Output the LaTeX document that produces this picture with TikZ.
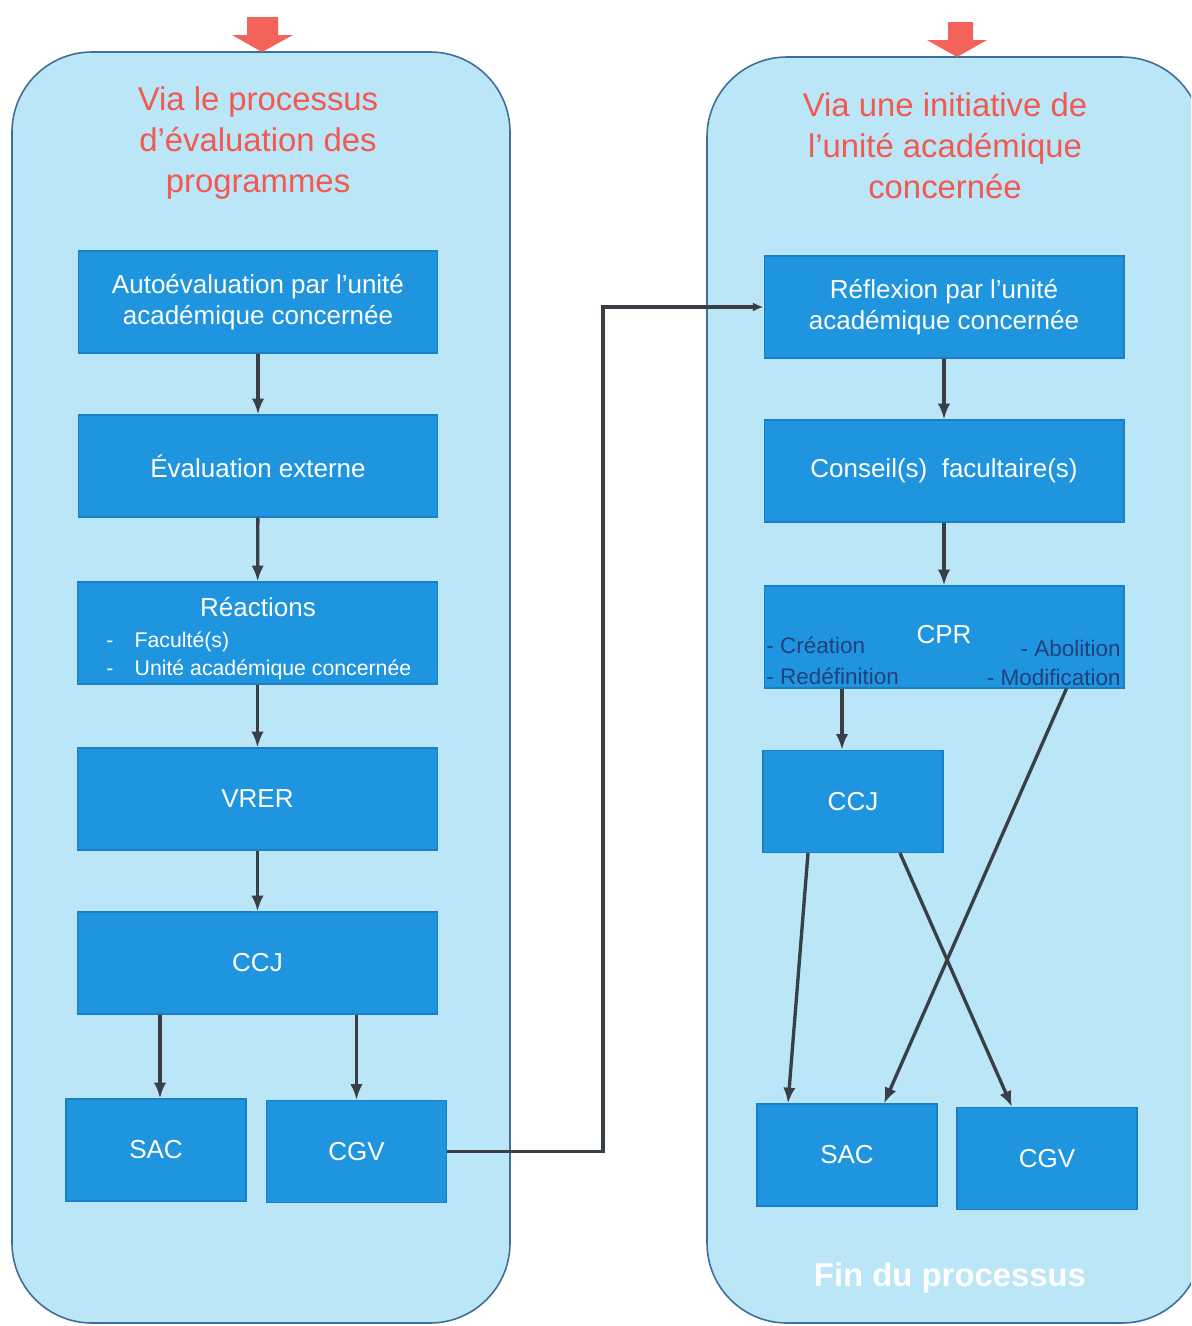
\documentclass[tikz,border=0pt]{standalone}
\usepackage{fontspec}
\setmainfont{Liberation Sans}
\usetikzlibrary{arrows.meta}
\definecolor{panelblue}{HTML}{BAE6F8}
\definecolor{paneledge}{HTML}{3F6E98}
\definecolor{boxblue}{HTML}{1F95DF}
\definecolor{boxedge}{HTML}{1A80C6}
\definecolor{titlered}{HTML}{F2594F}
\definecolor{arrowred}{HTML}{F4635A}
\definecolor{linkgray}{HTML}{3A3F46}
\definecolor{listnavy}{HTML}{24407C}
\tikzset{
  panel/.style={fill=panelblue, draw=paneledge, line width=0.9pt, rounded corners=1.6cm},
  box/.style={fill=boxblue, draw=boxedge, line width=0.6pt, minimum width=7.2cm, minimum height=2.04cm,
    inner sep=0pt, text=white, align=center, font=\fontsize{14.8}{18}\selectfont},
  halfbox/.style={box, minimum width=3.6cm},
  title/.style={text=titlered, align=center, font=\fontsize{18.7}{23.3}\selectfont},
  listtext/.style={anchor=west, inner sep=0pt, font=\fontsize{12.1}{14}\selectfont},
  sidetext/.style={inner sep=0pt, text=listnavy, font=\fontsize{12.8}{14}\selectfont},
  link/.style={draw=linkgray, line width=1.9pt, -{Latex[length=9pt,width=7pt]}},
}

\begin{document}
\begin{tikzpicture}[x=0.02cm,y=-0.02cm]
    \clip (0,0) rectangle (1191,1326);
    \fill[white] (0,0) rectangle (1191,1326);
    % the two panels
    \draw[panel] (12,52) rectangle (510,1323);
    \draw[panel] (707,57) rectangle (1202,1323);
    \fill[arrowred] (247,17) -- (278,17) -- (278,35) -- (293,35) -- (262,52) -- (232,35) -- (247,35) -- cycle;
    \fill[arrowred] (948,22) -- (973,22) -- (973,40) -- (987,40) -- (957,57) -- (927,40) -- (948,40) -- cycle;
    \node[title] (titleL) at (258,143) {Via le processus\\d’évaluation des\\programmes};
    \node[title] (titleR) at (945,146) {Via une initiative de\\l’unité académique\\concernée};

    % left column
    \node[box] (auto) at (258,302) {Autoévaluation par l’unité\\académique concernée};
    \node[box] (evext) at (258,466) {Évaluation externe};
    \node[box] (reac) at (257.5,633) {};
    \node[text=white, font=\fontsize{14.8}{18}\selectfont] (reactitle) at (258,607) {Réactions};
    \node[listtext, text=white] (reacA) at (106,642) {-\hspace{1em}Faculté(s)};
    \node[listtext, text=white] (reacB) at (106,670) {-\hspace{1em}Unité académique concernée};
    \node[box] (vrer) at (257.5,799) {VRER};
    \node[box] (ccjL) at (257.5,963) {CCJ};
    \node[halfbox] (sacL) at (156,1150) {SAC};
    \node[halfbox] (cgvL) at (356.5,1151.5) {CGV};

    \draw[link] (auto) -- (evext);
    \draw[link] (evext) -- (reac);
    \draw[link] (reac) -- (vrer);
    \draw[link] (vrer) -- (ccjL);
    \draw[link] ([xshift=0.08cm]sacL.north |- ccjL.south) -- ([xshift=0.08cm]sacL.north);
    \draw[link] (cgvL.north |- ccjL.south) -- (cgvL.north);

    % right column
    \node[box] (refl) at (944,307) {Réflexion par l’unité\\académique concernée};
    \node[box] (cons) at (944,471) {Conseil(s)\ \ facultaire(s)};
    \node[box] (cpr) at (944,637) {};
    \node[text=white, font=\fontsize{14.8}{18}\selectfont] (cprtitle) at (944,635) {CPR};
    \node[sidetext, anchor=west] (cprA) at (766,645) {- Création};
    \node[sidetext, anchor=west] (cprB) at (766,676) {- Redéfinition};
    \node[sidetext, anchor=east] (cprC) at (1121,648) {- Abolition};
    \node[sidetext, anchor=east] (cprD) at (1121,677) {- Modification};
    \node[halfbox] (ccjR) at (853,801.5) {CCJ};
    \node[halfbox] (sacR) at (847,1155) {SAC};
    \node[halfbox] (cgvR) at (1047,1158.5) {CGV};
    \node[text=white, font=\bfseries\fontsize{18.7}{22}\selectfont] (fin) at (950,1278) {Fin du processus};

    \draw[link] (refl) -- (cons);
    \draw[link] (cons) -- (cpr);
    \draw[link] ([xshift=-0.22cm]ccjR.north |- cpr.south) -- ([xshift=-0.22cm]ccjR.north);
    \draw[link] ([xshift=-1.16cm]cpr.south east) -- ([xshift=0.74cm]sacR.north);
    \draw[link] ([xshift=-0.9cm]ccjR.south) -- ([xshift=-1.18cm]sacR.north);
    \draw[link] ([xshift=0.94cm]ccjR.south) -- ([xshift=-0.7cm]cgvR.north);

    % from the first process to the second
    \coordinate (turn) at (603,700);
    \draw[link, -{Latex[length=6pt,width=5pt]}] (cgvL.east) -| (turn) |- (refl.west);
\end{tikzpicture}
\end{document}
